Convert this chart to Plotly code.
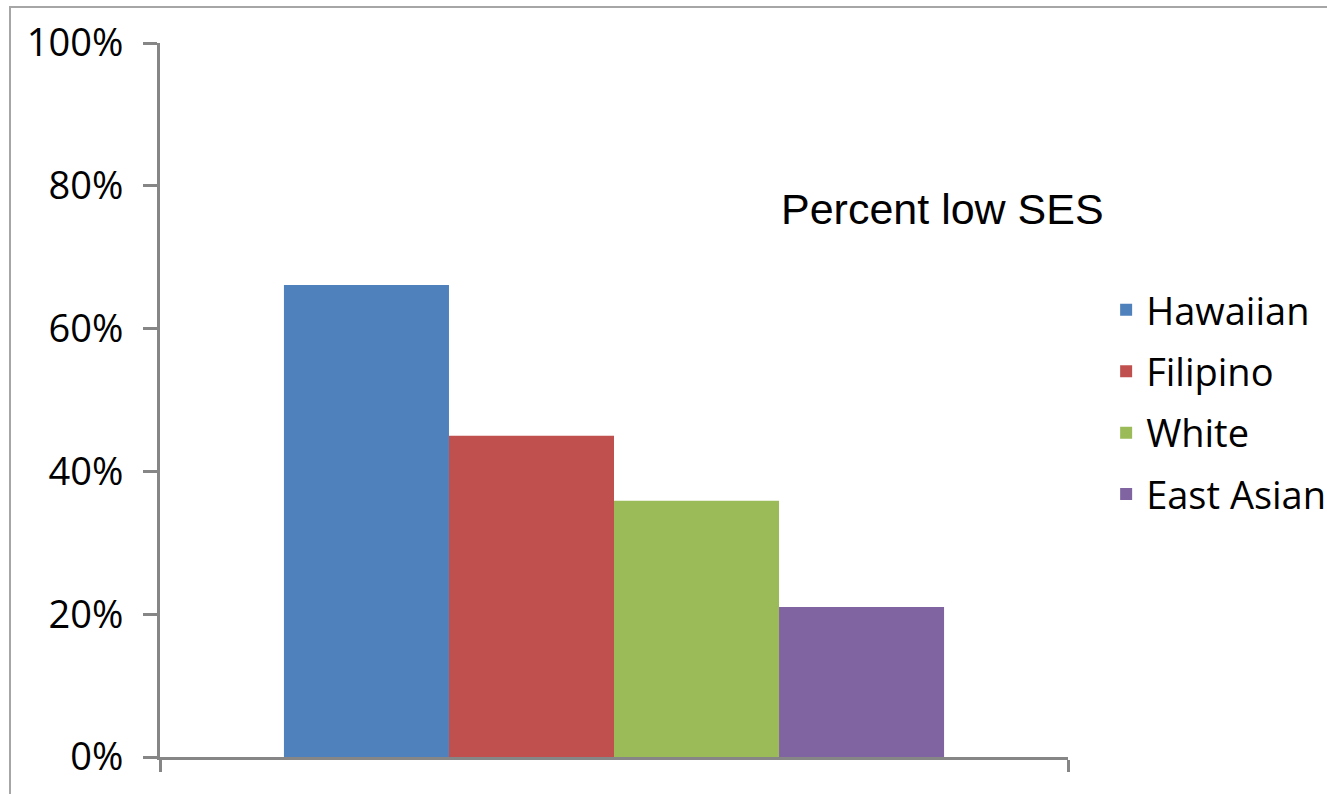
import plotly.graph_objects as go

groups = ["Hawaiian", "Filipino", "White", "East Asian"]
values = [0.661, 0.450, 0.359, 0.210]
colors = ["#4F81BD", "#C0504D", "#9BBB59", "#8064A2"]
category = [""]
y_ticks = [0, 0.2, 0.4, 0.6, 0.8, 1.0]
title_text = "Percent low SES"

AXIS = "#868686"

fig = go.Figure()
for g, v, c in zip(groups, values, colors):
    fig.add_trace(go.Bar(
        x=category, y=[v], name=g, marker=dict(color=c, line=dict(width=0)),
        legendgroup=g, hoverinfo="skip",
    ))

fig.update_layout(
    width=1327, height=794,
    margin=dict(l=160, r=259, t=43, b=37, autoexpand=False),
    paper_bgcolor="white", plot_bgcolor="white",
    barmode="group", bargap=0.273, bargroupgap=0,
    showlegend=True,
    legend=dict(
        x=1.042, xanchor="left", y=0.497, yanchor="middle",
        font=dict(family="Open Sans", size=38, color="#000000"),
        traceorder="grouped", tracegroupgap=9,
        bgcolor="rgba(0,0,0,0)",
    ),
    xaxis=dict(
        type="category", range=[-0.5, 0.5], showline=True, linecolor=AXIS, linewidth=3,
        ticks="outside", tickson="boundaries", ticklen=12, tickwidth=3, tickcolor=AXIS,
        showticklabels=False, showgrid=False, zeroline=False, fixedrange=True,
    ),
    yaxis=dict(
        range=[0, 1], tickvals=y_ticks, tickformat=".0%", showline=True, linecolor=AXIS,
        linewidth=3, ticks="outside", ticklen=14, tickwidth=3, tickcolor=AXIS,
        tickfont=dict(family="Open Sans", size=38, color="#000000"),
        ticklabelstandoff=12,
        showgrid=False, zeroline=False, fixedrange=True,
    ),
    annotations=[dict(
        text=title_text, xref="paper", yref="paper", x=0.862, y=0.767,
        xanchor="center", yanchor="middle", showarrow=False,
        font=dict(family="Liberation Sans, Arial", size=43, color="#000000"),
    )],
    shapes=[dict(
        type="rect", xref="paper", yref="paper", x0=-0.1652, x1=1.5, y0=-0.5, y1=1.0504,
        line=dict(color="#A6A6A6", width=2), fillcolor="rgba(0,0,0,0)", layer="below",
    )],
)

fig.write_html("out.html", config={"displayModeBar": False})
